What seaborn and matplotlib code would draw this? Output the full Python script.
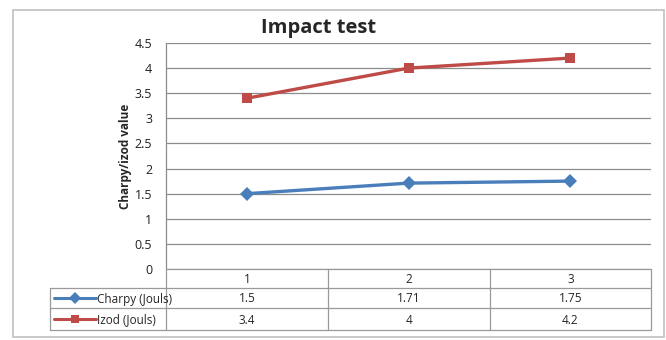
import matplotlib
matplotlib.use("Agg")
import matplotlib.pyplot as plt
import seaborn as sns
import pandas as pd
from matplotlib.patches import Rectangle

categories = [1, 2, 3]
charpy = [1.5, 1.71, 1.75]
izod = [3.4, 4, 4.2]
series_names = ["Charpy (Jouls)", "Izod (Jouls)"]
charpy_labels = ["1.5", "1.71", "1.75"]
izod_labels = ["3.4", "4", "4.2"]
yticks = [0, 0.5, 1, 1.5, 2, 2.5, 3, 3.5, 4, 4.5]
ytick_labels = ["0", "0.5", "1", "1.5", "2", "2.5", "3", "3.5", "4", "4.5"]

sns.set_style("white")
plt.rcParams['font.family'] = ['Open Sans', 'DejaVu Sans']

W, H = 666, 340
fig = plt.figure(figsize=(W / 100, H / 100), dpi=100)

def fx(px):
    return px / W

def fy(py):
    return 1 - py / H

# outer frame
fig.patches.append(Rectangle((fx(13), fy(337)), fx(664) - fx(13), fy(10) - fy(337),
                             transform=fig.transFigure, fill=False,
                             edgecolor="#C0C0C0", linewidth=1.2))

left, right, top, bottom = 166, 651, 43, 269
ax = fig.add_axes([fx(left), fy(bottom), fx(right) - fx(left), fy(top) - fy(bottom)])

df = pd.DataFrame({
    "x": categories * 2,
    "y": charpy + izod,
    "series": [series_names[0]] * 3 + [series_names[1]] * 3,
})
colors = {series_names[0]: "#4A7EBB", series_names[1]: "#BE4B48"}
markers = {series_names[0]: "D", series_names[1]: "s"}
msizes = {series_names[0]: 6.5, series_names[1]: 7.5}
sns.lineplot(data=df, x="x", y="y", hue="series", style="series",
             palette=colors, markers=markers, dashes=False, markersize=7,
             markeredgewidth=0, linewidth=2.4, legend=False, ax=ax)

ax.set_xlim(0.5, 3.5)
ax.set_ylim(0, 4.5)
ax.set_yticks(yticks)
ax.set_yticklabels(ytick_labels, fontsize=9, color="#222222")
ax.set_xticks([])
ax.set_xlabel("")
ax.set_ylabel("Charpy/izod value", fontsize=8.5, fontweight="bold", labelpad=2)
ax.grid(axis="y", color="#8C8C8C", linewidth=0.9)
ax.tick_params(axis="y", length=0, pad=10)
for s in ["top", "right", "bottom"]:
    ax.spines[s].set_visible(False)
ax.spines["left"].set_color("#8C8C8C")
ax.spines["left"].set_linewidth(0.9)

fig.text(fx(319), fy(28), "Impact test", ha="center", va="center",
         fontsize=14.5, fontweight="bold")

# data table below
tax = fig.add_axes([0, 0, 1, 1])
tax.set_xlim(0, W)
tax.set_ylim(H, 0)
tax.axis("off")
lc = "#9A9A9A"
cols = [left, 328, 490, right]
rows = [bottom, 288, 308, 330]
tab_left = 50
tax.plot([left, right], [rows[0], rows[0]], color=lc, lw=0.9)
for r in rows[1:]:
    tax.plot([tab_left, right], [r, r], color=lc, lw=0.9)
for c in cols:
    tax.plot([c, c], [rows[0], rows[3]], color=lc, lw=0.9)
tax.plot([tab_left, tab_left], [rows[1], rows[3]], color=lc, lw=0.9)

centers = [(cols[i] + cols[i + 1]) / 2 for i in range(3)]
for i, c in enumerate(categories):
    tax.text(centers[i], (rows[0] + rows[1]) / 2 + 1, str(c), ha="center", va="center", fontsize=8.5)
for i in range(3):
    tax.text(centers[i], (rows[1] + rows[2]) / 2 + 1, charpy_labels[i], ha="center", va="center", fontsize=8.5)
    tax.text(centers[i], (rows[2] + rows[3]) / 2 + 1, izod_labels[i], ha="center", va="center", fontsize=8.5)

for k, name in enumerate(series_names):
    yc = (rows[1 + k] + rows[2 + k]) / 2
    tax.plot([54, 96], [yc, yc], color=colors[name], lw=2.2)
    tax.plot([75], [yc], marker=markers[name], color=colors[name], markersize=6, markeredgewidth=0)
    tax.text(97, yc + 1, name, ha="left", va="center", fontsize=8.5)

fig.savefig("out.png", dpi=100)
